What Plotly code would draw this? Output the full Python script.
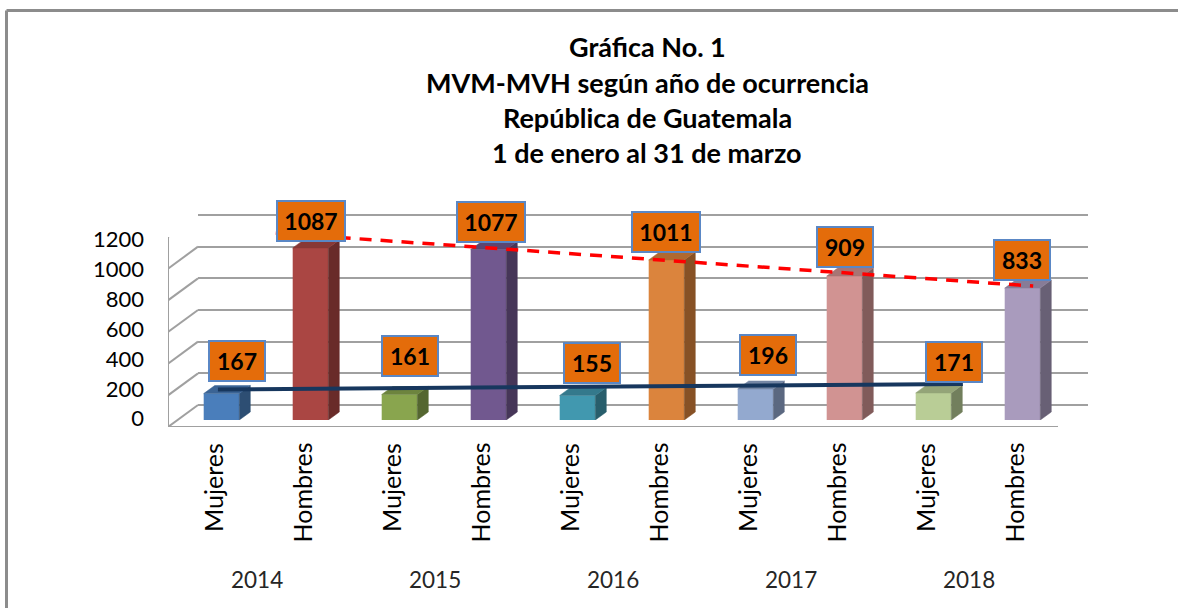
import plotly.graph_objects as go

# ---------------- data ----------------
YEARS = ["2014", "2015", "2016", "2017", "2018"]
SEXES = ["Mujeres", "Hombres"]
MUJERES = [167, 161, 155, 196, 171]
HOMBRES = [1087, 1077, 1011, 909, 833]
Y_TICKS = [0, 200, 400, 600, 800, 1000, 1200]
TITLE_LINES = ["Gráfica No. 1", "MVM-MVH según año de ocurrencia",
               "República de Guatemala", "1 de enero al 31 de marzo"]
# hand-drawn trend lines (x in bar-slot units, y in values)
TREND_H_X = [0.61, 9.12]
TREND_H_Y = [1181, 846]
TREND_M_X = [-0.04, 8.33]
TREND_M_Y = [193, 227]

# ---------------- style ----------------
FRONT = ["#4A7EBB", "#AA4643", "#89A54E", "#71588F", "#4198AF",
         "#DB843D", "#93A9CF", "#D19392", "#B9CD96", "#A99BBD"]
LABEL_DX = [15.5, 0.5, 10.5, 2.5, 14.5, -0.5, 12, 0, 20.5, -1]
LABEL_GAP = [11.6, 6, 17.5, 6.8, 11.5, 6.7, 13, 8, 10, 7]
FONT = "Lato"
GRID = "#A0A0A0"

W, H = 1178, 608


def shade(hexc, f):
    h = hexc.lstrip("#")
    r, g, b = (int(h[i:i + 2], 16) for i in (0, 2, 4))
    return "#%02X%02X%02X" % (int(r * f), int(g * f), int(b * f))


def fx(p):
    return p / W


def fy(p):
    return 1 - p / H


# bar sequence
vals, sex_lbl = [], []
for k in range(len(YEARS)):
    vals += [MUJERES[k], HOMBRES[k]]
    sex_lbl += SEXES
colors = FRONT
n = len(vals)
xs = list(range(n))

# plane geometry (pixels)
BACK = dict(x0=198, x1=1088, y0=405, y1=215)
FRNT = dict(x0=168, x1=1058, y0=427, y1=237)
BARP = dict(x0=177, x1=1067, y0=420, y1=230)
TICKP = dict(y0=418.7, y1=239.5)
YMAX = 1200
BW = 0.4
DEPTH_PX = (11, 8)
px_per_slot = (BARP["x1"] - BARP["x0"]) / n
px_per_val = (BARP["y0"] - BARP["y1"]) / YMAX
dxu = DEPTH_PX[0] / px_per_slot
dyu = DEPTH_PX[1] / px_per_val
# pad the back-wall axis so the edge gridlines (0, 1200) are not clipped
PAD = 40
back_ppv = (BACK["y0"] - BACK["y1"]) / YMAX

fig = go.Figure()

# back plane subplot (xy) - invisible anchor trace
fig.add_trace(go.Scatter(x=[-0.5], y=[0], mode="markers", marker=dict(opacity=0),
                         showlegend=False, hoverinfo="skip", xaxis="x", yaxis="y"))
# front plane subplot (x2y2)
fig.add_trace(go.Scatter(x=[-0.5], y=[0], mode="markers", marker=dict(opacity=0),
                         showlegend=False, hoverinfo="skip", xaxis="x2", yaxis="y2"))

# bars (x3y3)
fig.add_trace(go.Bar(x=xs, y=vals, width=BW, marker=dict(color=colors, line=dict(width=0)),
                     showlegend=False, hoverinfo="skip", xaxis="x3", yaxis="y3"))

# 3D side and top faces
for i, v in enumerate(vals):
    r = i + BW / 2
    l = i - BW / 2
    fig.add_trace(go.Scatter(
        x=[r, r + dxu, r + dxu, r, r], y=[0, dyu, v + dyu, v, 0],
        fill="toself", fillcolor=shade(colors[i], 0.62), mode="lines",
        line=dict(color=shade(colors[i], 0.62), width=0.5),
        showlegend=False, hoverinfo="skip", xaxis="x3", yaxis="y3"))
    fig.add_trace(go.Scatter(
        x=[l, r, r + dxu, l + dxu, l], y=[v, v, v + dyu, v + dyu, v],
        fill="toself", fillcolor=shade(colors[i], 0.8), mode="lines",
        line=dict(color=shade(colors[i], 0.8), width=0.5),
        showlegend=False, hoverinfo="skip", xaxis="x3", yaxis="y3"))

# trend lines
fig.add_trace(go.Scatter(x=TREND_M_X, y=TREND_M_Y, mode="lines",
                         line=dict(color="#17375E", width=4),
                         showlegend=False, hoverinfo="skip", xaxis="x3", yaxis="y3"))
fig.add_trace(go.Scatter(x=TREND_H_X, y=TREND_H_Y, mode="lines",
                         line=dict(color="#FF0000", width=3.5, dash="12px,9px"),
                         showlegend=False, hoverinfo="skip", xaxis="x3", yaxis="y3"))

# tick-label axis trace
fig.add_trace(go.Scatter(x=[0], y=[0], mode="markers", marker=dict(opacity=0),
                         showlegend=False, hoverinfo="skip", xaxis="x3", yaxis="y4"))

hidden = dict(showgrid=False, zeroline=False, showticklabels=False, ticks="",
              showline=False, fixedrange=True)

fig.update_layout(
    width=W, height=H,
    margin=dict(l=0, r=0, t=0, b=0, pad=0, autoexpand=False),
    paper_bgcolor="white", plot_bgcolor="rgba(0,0,0,0)",
    showlegend=False,
    xaxis=dict(domain=[fx(BACK["x0"]), fx(BACK["x1"])], range=[-0.5, n - 0.5], **hidden),
    yaxis=dict(domain=[fy(BACK["y0"] + PAD * back_ppv), fy(BACK["y1"] - PAD * back_ppv)],
               range=[-PAD, YMAX + PAD],
               showgrid=True, gridcolor=GRID, gridwidth=2, tickvals=Y_TICKS,
               zeroline=False, showticklabels=False, ticks="", showline=False,
               fixedrange=True),
    xaxis2=dict(domain=[fx(FRNT["x0"]), fx(FRNT["x1"])], range=[-0.5, n - 0.5],
                anchor="y2", **hidden),
    yaxis2=dict(domain=[fy(FRNT["y0"]), fy(FRNT["y1"])], range=[0, YMAX],
                anchor="x2", **hidden),
    xaxis3=dict(domain=[fx(BARP["x0"]), fx(BARP["x1"])], range=[-0.5, n - 0.5],
                anchor="y3", **hidden),
    yaxis3=dict(domain=[fy(BARP["y0"]), fy(BARP["y1"])], range=[0, YMAX],
                anchor="x3", **hidden),
    yaxis4=dict(domain=[fy(TICKP["y0"]), fy(TICKP["y1"])], range=[0, YMAX],
                anchor="free", position=fx(144), tickvals=Y_TICKS,
                showgrid=False, zeroline=False, showline=False, ticks="",
                tickfont=dict(family=FONT, size=22, color="#000000"),
                automargin=False, fixedrange=True),
)

shapes = []
# left wall diagonals and right floor edge (anchored on the front plane)
ddx = BACK["x0"] - FRNT["x0"]
ddy = FRNT["y0"] - BACK["y0"]
for t in Y_TICKS:
    shapes.append(dict(type="line", xref="x2", yref="y2", xsizemode="pixel", ysizemode="pixel",
                       xanchor=-0.5, yanchor=t, x0=0, y0=0, x1=ddx, y1=ddy,
                       line=dict(color=GRID, width=2)))
shapes.append(dict(type="line", xref="x2", yref="y2", xsizemode="pixel", ysizemode="pixel",
                   xanchor=n - 0.5, yanchor=0, x0=0, y0=0, x1=ddx, y1=ddy,
                   line=dict(color=GRID, width=2)))
# front plane: floor edge, left wall edge, group dividers
shapes.append(dict(type="line", xref="x2", yref="y2", x0=-0.5, x1=n - 0.5, y0=0, y1=0,
                   line=dict(color=GRID, width=2)))
shapes.append(dict(type="line", xref="x2", yref="y2", x0=-0.5, x1=-0.5, y0=0, y1=YMAX,
                   line=dict(color=GRID, width=2)))
for g in range(len(YEARS) + 1):
    shapes.append(dict(type="line", xref="x2", yref="y2", ysizemode="pixel", yanchor=0,
                       x0=2 * g - 0.5, x1=2 * g - 0.5, y0=0, y1=-168,
                       line=dict(color=GRID, width=2)))
# outer chart border
shapes.append(dict(type="line", xref="paper", yref="paper", x0=fx(6.5), x1=fx(6.5),
                   y0=fy(10.5), y1=0, line=dict(color="#8C8C8C", width=3)))
shapes.append(dict(type="line", xref="paper", yref="paper", x0=fx(6.5), x1=1,
                   y0=fy(10.5), y1=fy(10.5), line=dict(color="#8C8C8C", width=3)))
fig.update_layout(shapes=shapes)

ann = []
# title
for k, line in enumerate(TITLE_LINES):
    ann.append(dict(xref="paper", yref="paper", x=fx(647), y=fy(47 + 35 * k),
                    xanchor="center", yanchor="middle", showarrow=False, text=line,
                    font=dict(family=FONT, size=27, color="#000000", weight="bold")))
# data labels
for i, v in enumerate(vals):
    four = len(str(v)) == 4
    ann.append(dict(xref="x3", yref="y3", x=i, y=v, xanchor="center", yanchor="bottom",
                    xshift=LABEL_DX[i], yshift=LABEL_GAP[i], showarrow=False,
                    text=str(v), bgcolor="#E46C0A", bordercolor="#5A87C5",
                    borderwidth=2, borderpad=0, width=66 if four else 54, height=38,
                    font=dict(family=FONT, size=23, color="#000000", weight="bold")))
# category labels
for i in range(n):
    ann.append(dict(xref="x2", yref="y2", x=i, y=0, xanchor="center", yanchor="top",
                    yshift=-14, showarrow=False, text=sex_lbl[i], textangle=-90,
                    font=dict(family=FONT, size=25, color="#000000")))
for g, yr in enumerate(YEARS):
    ann.append(dict(xref="x2", yref="y2", x=2 * g + 0.5, y=0, xanchor="center",
                    yanchor="middle", yshift=-152, showarrow=False, text=yr,
                    font=dict(family=FONT, size=22.5, color="#262626")))
fig.update_layout(annotations=ann)

fig.write_html("out.html", config={"displayModeBar": False, "staticPlot": True},
               post_script="document.body.style.margin='0px';")
